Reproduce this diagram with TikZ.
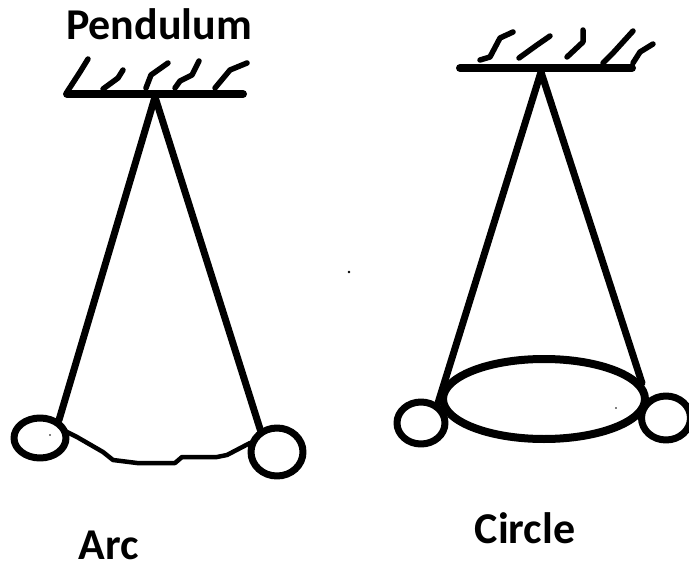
\documentclass[tikz,border=0pt]{standalone}
\usepackage{fontspec}
\setmainfont{Carlito}
\begin{document}
\begin{tikzpicture}[x=1pt,y=-1pt,line cap=round,line join=round,
  bar/.style={line width=8pt,black},
  rod/.style={line width=7pt,black},
  hatch/.style={line width=5.5pt,black},
  ring/.style={line width=7pt,black},
  lab/.style={font=\bfseries\fontsize{44}{50}\selectfont,text=black,anchor=base,inner sep=0pt}]
\useasboundingbox (0,0) rectangle (689,570);
\node[lab] (t1) at (159,39) {Pendulum};
\node[lab] (t2) at (109,559) {Arc};
\node[lab] (t3) at (525,543) {Circle};
% left
\coordinate (p1) at (155,97);
\draw[bar] (67,94) -- (243,94);
\draw[hatch] (67,92) -- (80,72) -- (88,59);
\draw[hatch] (103,89) -- (118,78) -- (123,70);
\draw[hatch] (146,88) -- (151,75) -- (168,63);
\draw[hatch] (175,88) -- (180,81) -- (192,75) -- (199,61);
\draw[hatch] (215,88) -- (230,70) -- (247,63);
\draw[rod] (p1) -- (59,420);
\draw[rod] (p1) -- (261,432);
\draw[ring] (40,438) ellipse (26pt and 20pt);
\draw[ring] (277,452) ellipse (26pt and 24pt);
\draw[line width=4.5pt,black] (63,430) -- (77,437) -- (103,452) -- (113,460) -- (137,463) -- (175,463) -- (182,457) -- (217,457) -- (227,455) -- (250,443);
\fill (50,435) circle (.8pt);
\fill (349,272) circle (1.3pt);
% right
\coordinate (p2) at (541,72);
\draw[bar] (460,68) -- (632,68);
\draw[hatch] (480,60) -- (490,57) -- (500,38) -- (513,32);
\draw[hatch] (519,58) -- (537,45) -- (550,36);
\draw[hatch] (567,57) -- (583,42) -- (583,30);
\draw[hatch] (603,63) -- (613,53) -- (633,31);
\draw[hatch] (633,63) -- (640,52) -- (653,44);
\draw[rod] (p2) -- (438,403);
\draw[rod] (p2) -- (642,383);
\draw[line width=8pt,black] (544,399) ellipse (101pt and 40pt);
\draw[ring] (421,423) ellipse (24pt and 21pt);
\draw[ring] (666,418) ellipse (24.5pt and 22pt);
\fill (616,408) circle (.8pt);
\end{tikzpicture}
\end{document}
